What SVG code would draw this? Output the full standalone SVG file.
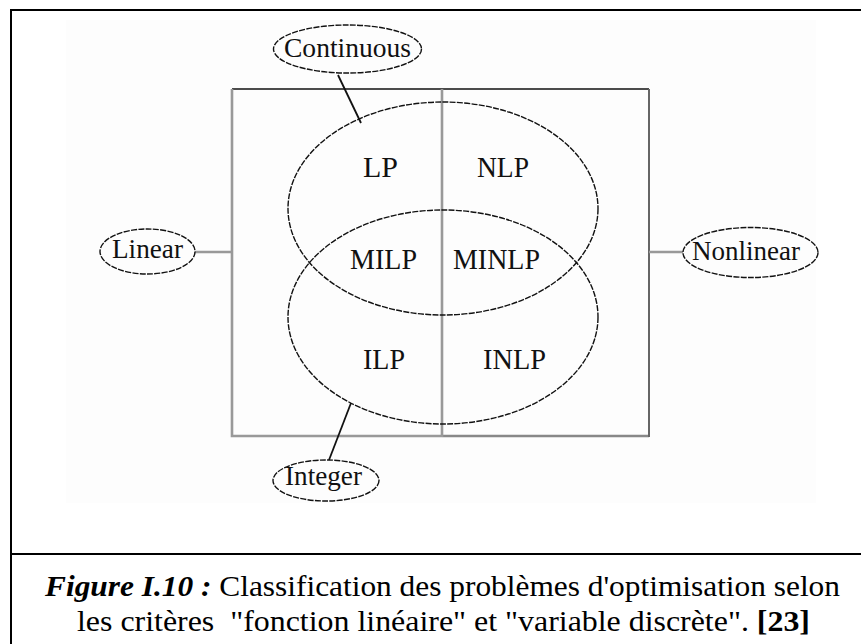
<svg xmlns="http://www.w3.org/2000/svg" width="861" height="644" viewBox="0 0 861 644">
  <style>
    .lbl { font-family: "Liberation Serif", "Times New Roman", serif; fill: #111; }
    .tag { font-size: 28px; }
    .cls { font-size: 29px; }
    .set { fill: none; stroke: #111; stroke-width: 1.4; stroke-dasharray: 6 1.3; }
    .tagshape { fill: none; stroke: #111; stroke-width: 1.4; stroke-dasharray: 6 1.3; }
    .grey { stroke: #999; stroke-width: 2.6; fill: none; }
    .dark { stroke: #111; stroke-width: 1.6; fill: none; }
    .cap { font-family: "Liberation Serif", "Times New Roman", serif; font-size: 30px; fill: #000; }
  </style>

  <rect x="0" y="0" width="861" height="644" fill="#fff"/>
  <rect x="66" y="20" width="750" height="483" fill="#fdfdfd"/>

  <!-- outer frame and caption divider -->
  <g id="frame" fill="none" stroke="#000" stroke-width="2">
    <path d="M11 660 V10 H880"/>
    <path d="M11 554 H880"/>
  </g>

  <!-- classification box: linear / nonlinear halves -->
  <g id="box">
    <path d="M232 89 H649" class="dark"/>
    <path d="M232 89 V436 H442" class="grey"/>
    <path d="M442 436 H649" stroke="#888" stroke-width="2.4" fill="none"/>
    <path d="M649 89 V437" stroke="#666" stroke-width="2" fill="none"/>
    <path d="M442 89 V437" class="grey"/>
  </g>

  <!-- continuous and integer sets -->
  <g id="sets">
    <ellipse cx="443" cy="208.5" rx="155" ry="106.5" class="set"/>
    <ellipse cx="443" cy="317" rx="155" ry="107" class="set"/>
  </g>

  <g id="connectors">
    <line x1="338" y1="75" x2="361" y2="123" stroke="#111" stroke-width="1.8"/>
    <line x1="351" y1="403" x2="329" y2="460" stroke="#111" stroke-width="1.8"/>
    <line x1="195" y1="252" x2="232" y2="252" class="grey"/>
    <line x1="649" y1="252" x2="683" y2="252" class="grey"/>
  </g>

  <g id="continuous">
    <ellipse cx="347.5" cy="49" rx="74" ry="24" class="tagshape"/>
    <text x="347.5" y="57" text-anchor="middle" class="lbl tag" textLength="127" lengthAdjust="spacingAndGlyphs">Continuous</text>
  </g>
  <g id="linear">
    <ellipse cx="147.5" cy="251.5" rx="47.5" ry="22.5" class="tagshape"/>
    <text x="147.5" y="258" text-anchor="middle" class="lbl tag" textLength="71" lengthAdjust="spacingAndGlyphs">Linear</text>
  </g>
  <g id="nonlinear">
    <ellipse cx="750.5" cy="252.5" rx="67.5" ry="25" class="tagshape"/>
    <text x="746" y="260" text-anchor="middle" class="lbl tag" textLength="108" lengthAdjust="spacingAndGlyphs">Nonlinear</text>
  </g>
  <g id="integer">
    <ellipse cx="326" cy="480.5" rx="53" ry="20.5" class="tagshape"/>
    <text x="323.5" y="485" text-anchor="middle" class="lbl tag" textLength="77" lengthAdjust="spacingAndGlyphs">Integer</text>
  </g>

  <g id="lp"><text x="380.5" y="177" text-anchor="middle" class="lbl cls" textLength="35" lengthAdjust="spacingAndGlyphs">LP</text></g>
  <g id="nlp"><text x="503" y="177" text-anchor="middle" class="lbl cls" textLength="52" lengthAdjust="spacingAndGlyphs">NLP</text></g>
  <g id="milp"><text x="383.5" y="269" text-anchor="middle" class="lbl cls" textLength="67" lengthAdjust="spacingAndGlyphs">MILP</text></g>
  <g id="minlp"><text x="496.5" y="269" text-anchor="middle" class="lbl cls" textLength="87" lengthAdjust="spacingAndGlyphs">MINLP</text></g>
  <g id="ilp"><text x="384" y="369" text-anchor="middle" class="lbl cls" textLength="42" lengthAdjust="spacingAndGlyphs">ILP</text></g>
  <g id="inlp"><text x="514.5" y="369" text-anchor="middle" class="lbl cls" textLength="63" lengthAdjust="spacingAndGlyphs">INLP</text></g>

  <!-- caption -->
  <g id="caption">
    <text x="45" y="596" class="cap" textLength="795" lengthAdjust="spacingAndGlyphs"><tspan font-weight="bold" font-style="italic">Figure I.10 :</tspan> Classification des problèmes d'optimisation selon</text>
    <text x="77" y="631" class="cap" textLength="733" lengthAdjust="spacingAndGlyphs">les critères&#160; "fonction linéaire" et "variable discrète". <tspan font-weight="bold">[23]</tspan></text>
  </g>
</svg>
